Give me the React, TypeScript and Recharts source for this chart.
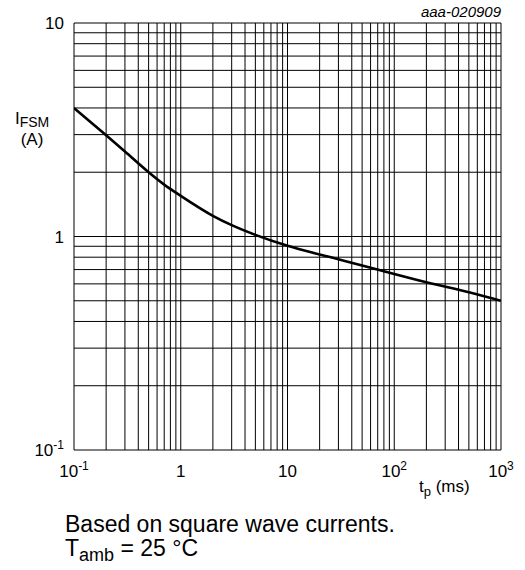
//@ts-nocheck
import React from 'react'
import { LineChart, Line, XAxis, YAxis, CartesianGrid, Customized } from 'recharts'

// pulse duration t_p (ms) and the read-off surge current I_FSM (A)
const tpMs = [0.1, 0.2, 0.3, 0.5, 0.7, 1, 2, 3, 5, 10, 20, 30, 50, 100, 200, 500, 1000]
const ifsmA = [4.0, 2.98, 2.5, 2.0, 1.75, 1.55, 1.25, 1.13, 1.018, 0.905, 0.824, 0.782, 0.732, 0.667, 0.61, 0.548, 0.5]

const xDecades = [0.1, 1, 10, 100, 1000]
const xDecadeLabels = [['10', '-1'], ['1', ''], ['10', ''], ['10', '2'], ['10', '3']]
const yDecades = [0.1, 1, 10]
const yDecadeLabels = [['10', '-1'], ['1', ''], ['10', '']]

const minorSteps = [1, 2, 3, 4, 5, 6, 7, 8, 9]
const xTicks = [0.1, 1, 10, 100].flatMap(d => minorSteps.map(m => +(d * m).toPrecision(3))).concat([1000])
const yTicks = [0.1, 1].flatMap(d => minorSteps.map(m => +(d * m).toPrecision(3))).concat([10])

const FONT = '"Liberation Sans", Arial, sans-serif'

const data = tpMs.map((t, i) => ({ t, i: ifsmA[i] }))

const findLabel = (decades, labels, v) =>
{
    const k = decades.findIndex(d => Math.abs(d - v) / d < 1e-6)
    return k < 0 ? null : labels[k]
}

const XTick = (props) =>
{
    const { x, y, payload } = props
    const lbl = findLabel(xDecades, xDecadeLabels, payload.value)
    if (!lbl) return <g />
    return (
        <text x={x} y={y + 19} textAnchor="middle" fontFamily={FONT} fontSize={17} fill="#000">
            {lbl[0]}
            {lbl[1] ? <tspan fontSize={12} dy={-7}>{lbl[1]}</tspan> : null}
        </text>
    )
}

const YTick = (props) =>
{
    const { x, y, payload } = props
    const lbl = findLabel(yDecades, yDecadeLabels, payload.value)
    if (!lbl) return <g />
    return (
        <text x={x - 2} y={y + 6} textAnchor="end" fontFamily={FONT} fontSize={17} fill="#000">
            {lbl[0]}
            {lbl[1] ? <tspan fontSize={12} dy={-7}>{lbl[1]}</tspan> : null}
        </text>
    )
}

const Notes = () => (
    <g fontFamily={FONT} fill="#000">
        <text x={501} y={17} textAnchor="end" fontSize={15} fontStyle="italic">aaa-020909</text>
        <text x={15} y={124} fontSize={17}>I<tspan fontSize={14} dy={3}>FSM</tspan></text>
        <text x={32} y={145} fontSize={17} textAnchor="middle">(A)</text>
        <text x={419} y={492} fontSize={17}>t<tspan fontSize={13} dy={4}>p</tspan><tspan dy={-4}> (ms)</tspan></text>
        <text x={65} y={532} fontSize={23}>Based on square wave currents.</text>
        <text x={65} y={556} fontSize={23}>T<tspan fontSize={18} dy={5}>amb</tspan><tspan dy={-5}> = 25 °C</tspan></text>
    </g>
)

export default function App()
{
    return (
        <div style={{ position: 'absolute', left: 0, top: 0, background: '#fff' }}>
            <LineChart width={525} height={570} data={data} margin={{ top: 23, right: 24, bottom: 90, left: 0 }}>
                <CartesianGrid stroke="#000" strokeWidth={1} />
                <XAxis
                    dataKey="t"
                    type="number"
                    scale="log"
                    domain={[0.1, 1000]}
                    ticks={xTicks}
                    interval={0}
                    height={30}
                    axisLine={false}
                    tickLine={false}
                    tick={XTick}
                    allowDataOverflow
                />
                <YAxis
                    type="number"
                    scale="log"
                    domain={[0.1, 10]}
                    ticks={yTicks}
                    interval={0}
                    width={74}
                    axisLine={false}
                    tickLine={false}
                    tick={YTick}
                    allowDataOverflow
                />
                <Line
                    type="monotone"
                    dataKey="i"
                    stroke="#000"
                    strokeWidth={2.6}
                    dot={false}
                    isAnimationActive={false}
                />
                <Customized component={<Notes />} />
            </LineChart>
        </div>
    )
}
